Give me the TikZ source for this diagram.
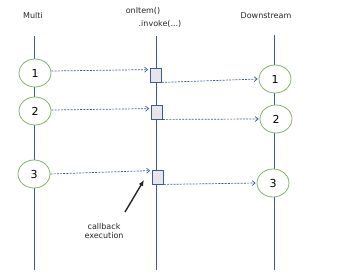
\documentclass[tikz,border=0pt]{standalone}
\usepackage{fontspec}
\setmainfont{DejaVu Sans}
\usetikzlibrary{arrows.meta,shapes.geometric}
\definecolor{lineblue}{HTML}{3C5A9A}
\definecolor{circgreen}{HTML}{82B366}
\definecolor{boxgray}{HTML}{E6E6E6}
\tikzset{
  lifeline/.style={draw=lineblue, line width=0.8pt},
  evt/.style={ellipse, draw=circgreen, fill=white, line width=0.8pt, minimum width=32pt, minimum height=28pt, inner sep=0pt, font=\fontsize{11}{13}\selectfont},
  callbox/.style={draw=lineblue, fill=boxgray, line width=0.8pt, minimum width=11pt, minimum height=14pt, inner sep=0pt},
  msg/.style={draw=lineblue, dash pattern=on 2pt off 1.2pt, line width=0.7pt, -{Straight Barb[length=3pt,width=5pt]}},
  lbl/.style={font=\fontsize{8}{12}\selectfont, text=black!85},
}
\begin{document}
\begin{tikzpicture}[x=1pt,y=-1pt]
\useasboundingbox (0,0) rectangle (337,277);
% labels
\node[lbl] (lmulti) at (33,16) {Multi};
\node[lbl] (lon1) at (143,11) {onItem()};
\node[lbl] (lon2) at (160,24) {.invoke(...)};
\node[lbl] (ldown) at (266,16) {Downstream};
% lifelines
\coordinate (mt) at (34,36); \coordinate (mb) at (34,270);
\coordinate (ot) at (156,36); \coordinate (ob) at (156,270);
\coordinate (dt) at (274,35); \coordinate (db) at (274,270);
\draw[lifeline] (mt) -- (mb);
\draw[lifeline] (ot) -- (ob);
\draw[lifeline] (dt) -- (db);
% events
\node[evt] (m1) at (35,73) {1};
\node[evt] (m2) at (35,111) {2};
\node[evt] (m3) at (34,174) {3};
\node[callbox] (b1) at (156,75) {};
\node[callbox] (b2) at (157,112) {};
\node[callbox] (b3) at (158,177) {};
\node[evt] (d1) at (275,79) {1};
\node[evt] (d2) at (276,119) {2};
\node[evt] (d3) at (273,183) {3};
% messages
\draw[msg] ([yshift=2pt]m1.east) -- ([xshift=-2pt,yshift=-2pt]b1.north west);
\draw[msg] ([yshift=1pt]m2.east) -- ([xshift=-2pt,yshift=-4pt]b2.north west);
\draw[msg] (m3.east) -- ([xshift=-2pt,yshift=-1pt]b3.north west);
\draw[msg] (b1.south east) -- ([xshift=-1pt]d1.west);
\draw[msg] (b2.south east) -- ([xshift=-1pt]d2.west);
\draw[msg] (b3.south east) -- ([xshift=-1pt]d3.west);
% callback annotation
\node[lbl, align=center] (cb) at (104,231) {callback\\[-3pt]execution};
\coordinate (cbs) at (125,212);
\draw[line width=1.4pt, black!85, -{Latex[length=6pt,width=5pt]}] (cbs) -- (144,180);
\end{tikzpicture}
\end{document}
